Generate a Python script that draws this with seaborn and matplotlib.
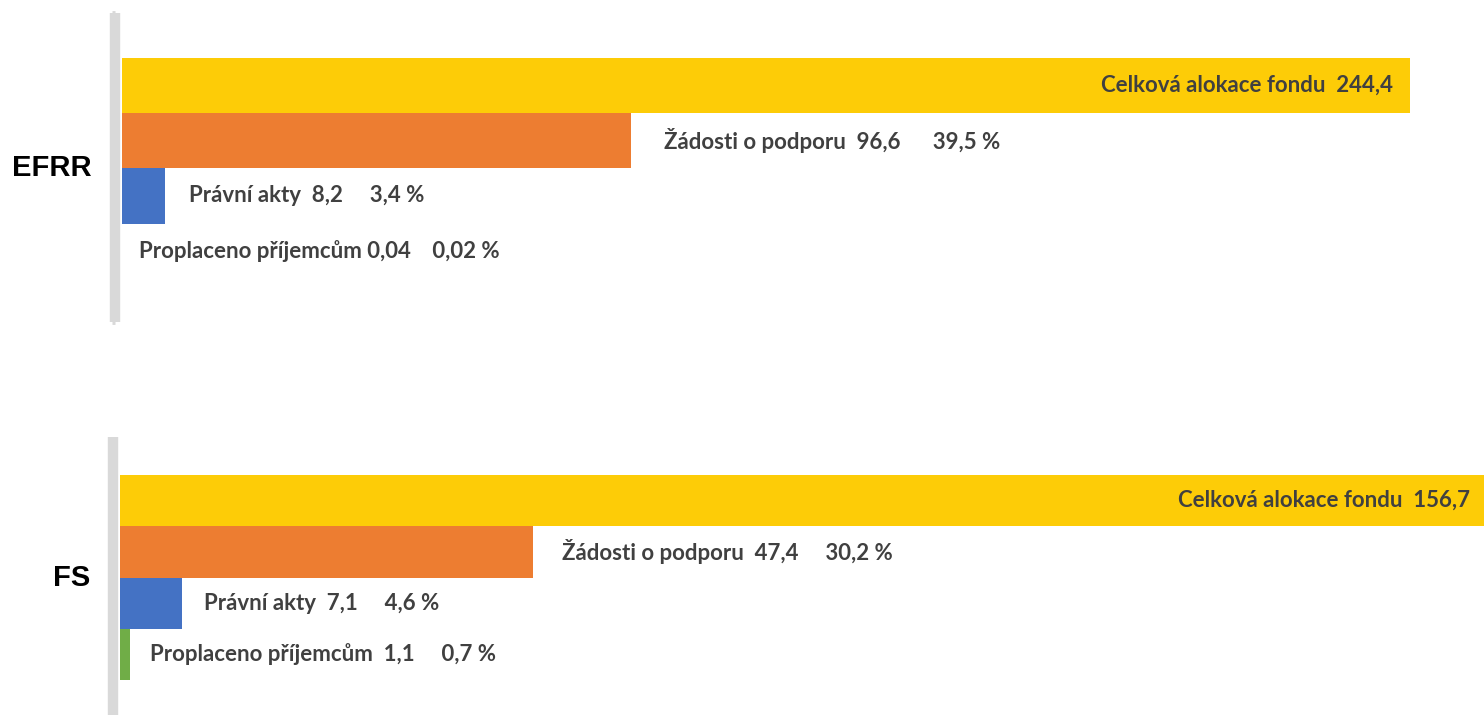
import numpy as np
import pandas as pd
import seaborn as sns
import matplotlib
matplotlib.use('Agg')
import matplotlib.pyplot as plt

sns.set_style('white')
plt.rcParams['font.family'] = ['Lato', 'DejaVu Sans']

# data
categories = ['Celková alokace fondu', 'Žádosti o podporu', 'Právní akty', 'Proplaceno příjemcům']
efrr_values = [244.4, 96.6, 8.2, 0.04]
fs_values = [156.7, 47.4, 7.1, 1.1]
efrr_labels = ['Celková alokace fondu  244,4',
               'Žádosti o podporu  96,6      39,5 %',
               'Právní akty  8,2     3,4 %',
               'Proplaceno příjemcům 0,04    0,02 %']
fs_labels = ['Celková alokace fondu  156,7',
             'Žádosti o podporu  47,4     30,2 %',
             'Právní akty  7,1     4,6 %',
             'Proplaceno příjemcům  1,1     0,7 %']
colors = ['#FDCC07', '#ED7D31', '#4472C4', '#70AD47']

W, H = 1484, 715
fig = plt.figure(figsize=(W / 100, H / 100), dpi=100)

def panel(rect, values, labels, name, ylim, xmax, offsets, inner_off, name_y, caps=False):
    ax = fig.add_axes(rect)
    df = pd.DataFrame({'cat': categories, 'val': values})
    sns.barplot(data=df, x='val', y='cat', hue='cat', palette=colors,
                width=1.0, ax=ax, legend=False, saturation=1, linewidth=0)
    ax.set_ylim(*ylim)
    ax.set_xlim(0, xmax)
    for s in ['top', 'right', 'bottom']:
        ax.spines[s].set_visible(False)
    sp = ax.spines['left']
    sp.set_position(('outward', 5))
    sp.set_color('#D9D9D9')
    sp.set_linewidth(7.5)
    sp.set_capstyle('butt')
    ax.set_xticks([])
    if caps:
        ax.set_yticks(list(ylim), labels=['', ''])
        ax.tick_params(axis='y', left=True, length=2.5, width=3.5,
                       color='#D9D9D9', direction='out')
    else:
        ax.set_yticks([])
    ax.set_xlabel('')
    ax.set_ylabel(name, rotation=0, fontsize=21, fontweight='bold',
                  family=['Liberation Sans', 'DejaVu Sans'], color='black',
                  ha='right', va='center')
    ax.yaxis.set_label_coords(-0.022, name_y)
    for i, (v, lab) in enumerate(zip(values, labels)):
        if i == 0:
            ax.annotate(lab, xy=(v, i), xytext=(inner_off, 0), textcoords='offset points',
                        ha='right', va='center', fontsize=16, fontweight='bold', color='#404040')
        else:
            ax.annotate(lab, xy=(v, i), xytext=(offsets[i], 0), textcoords='offset points',
                        ha='left', va='center', fontsize=16, fontweight='bold', color='#404040')
    return ax

top = panel([122 / W, (H - 322) / H, 1362 / W, 309 / H], efrr_values, efrr_labels, 'EFRR',
            (4.28, -1.31), 244.4 * 1362 / 1288, [0, 24, 17, 12], -12, 0.498, caps=True)
bot = panel([120 / W, 0, 1364 / W, 278 / H], fs_values, fs_labels, 'FS',
            (4.18, -1.24), 156.7, [0, 21, 16, 15], -10, 0.493)

fig.savefig('out.png', dpi=100)
